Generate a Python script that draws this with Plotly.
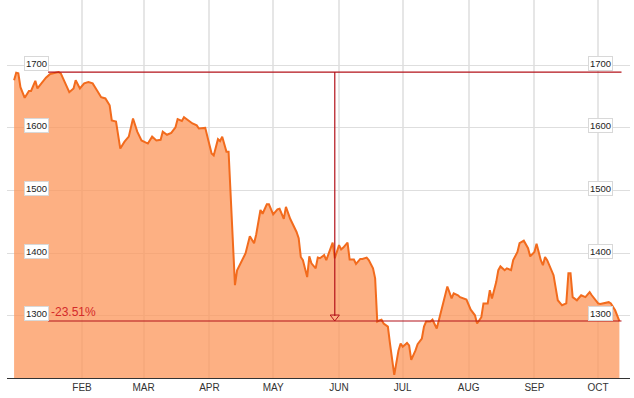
import plotly.graph_objects as go
import datetime as dt

# ---- data ----
dates = [
    "2007-12-31", "2008-01-01", "2008-01-02", "2008-01-03", "2008-01-05", "2008-01-07", "2008-01-08",
    "2008-01-10", "2008-01-11", "2008-01-13", "2008-01-15", "2008-01-17", "2008-01-19", "2008-01-21",
    "2008-01-22", "2008-01-25", "2008-01-26", "2008-01-28", "2008-01-29", "2008-01-31", "2008-02-02",
    "2008-02-04", "2008-02-06", "2008-02-08", "2008-02-10", "2008-02-12", "2008-02-14", "2008-02-15",
    "2008-02-17", "2008-02-19", "2008-02-21", "2008-02-23", "2008-02-25", "2008-02-27", "2008-02-29",
    "2008-03-03", "2008-03-05", "2008-03-07", "2008-03-09", "2008-03-10", "2008-03-12", "2008-03-14",
    "2008-03-16", "2008-03-17", "2008-03-19", "2008-03-20", "2008-03-22", "2008-03-24", "2008-03-26",
    "2008-03-27", "2008-03-30", "2008-03-31", "2008-04-02", "2008-04-03", "2008-04-05", "2008-04-06",
    "2008-04-07", "2008-04-09", "2008-04-10", "2008-04-13", "2008-04-14", "2008-04-18", "2008-04-20",
    "2008-04-22", "2008-04-23", "2008-04-25", "2008-04-26", "2008-04-28", "2008-04-29", "2008-05-01",
    "2008-05-03", "2008-05-04", "2008-05-06", "2008-05-07", "2008-05-09", "2008-05-12", "2008-05-13",
    "2008-05-14", "2008-05-15", "2008-05-17", "2008-05-18", "2008-05-19", "2008-05-21", "2008-05-22",
    "2008-05-23", "2008-05-25", "2008-05-26", "2008-05-29", "2008-05-30", "2008-06-01", "2008-06-02",
    "2008-06-03", "2008-06-05", "2008-06-06", "2008-06-08", "2008-06-09", "2008-06-11", "2008-06-12",
    "2008-06-14", "2008-06-15", "2008-06-17", "2008-06-18", "2008-06-19", "2008-06-20", "2008-06-21",
    "2008-06-22", "2008-06-24", "2008-06-25", "2008-06-27", "2008-06-29", "2008-06-30", "2008-07-01",
    "2008-07-03", "2008-07-04", "2008-07-05", "2008-07-07", "2008-07-08", "2008-07-10", "2008-07-11",
    "2008-07-12", "2008-07-14", "2008-07-15", "2008-07-17", "2008-07-18", "2008-07-19", "2008-07-21",
    "2008-07-22", "2008-07-24", "2008-07-25", "2008-07-27", "2008-07-28", "2008-07-31", "2008-08-02",
    "2008-08-04", "2008-08-05", "2008-08-07", "2008-08-08", "2008-08-10", "2008-08-11", "2008-08-12",
    "2008-08-14", "2008-08-15", "2008-08-16", "2008-08-18", "2008-08-19", "2008-08-21", "2008-08-22",
    "2008-08-24", "2008-08-25", "2008-08-27", "2008-08-29", "2008-08-30", "2008-09-01", "2008-09-02",
    "2008-09-04", "2008-09-05", "2008-09-06", "2008-09-07", "2008-09-09", "2008-09-10", "2008-09-12",
    "2008-09-14", "2008-09-16", "2008-09-17", "2008-09-18", "2008-09-19", "2008-09-21", "2008-09-23",
    "2008-09-25", "2008-09-27", "2008-09-28", "2008-10-01", "2008-10-02", "2008-10-04", "2008-10-06",
    "2008-10-07", "2008-10-09", "2008-10-11",
]
values = [
    1676, 1688, 1687, 1665, 1648, 1659, 1659,
    1675, 1663, 1671, 1680, 1686, 1687, 1689,
    1687, 1665, 1657, 1663, 1676, 1663, 1671,
    1673, 1671, 1660, 1649, 1647, 1636, 1612,
    1610, 1567, 1578, 1586, 1615, 1594, 1580,
    1575, 1586, 1580, 1581, 1594, 1589, 1592,
    1601, 1614, 1611, 1617, 1612, 1607, 1604,
    1599, 1600, 1586, 1559, 1556, 1582, 1579,
    1586, 1562, 1562, 1349, 1373, 1400, 1427,
    1416, 1430, 1469, 1463, 1478, 1478, 1462,
    1470, 1471, 1455, 1474, 1455, 1434, 1424,
    1394, 1389, 1362, 1395, 1384, 1376, 1393,
    1392, 1397, 1389, 1417, 1392, 1413, 1406,
    1409, 1417, 1390, 1390, 1383, 1391, 1391,
    1393, 1389, 1376, 1360, 1291, 1293, 1294,
    1288, 1283, 1256, 1206, 1245, 1256, 1251,
    1257, 1253, 1230, 1245, 1255, 1264, 1283,
    1291, 1291, 1294, 1280, 1293, 1307, 1333,
    1347, 1328, 1336, 1333, 1330, 1326, 1310,
    1301, 1288, 1298, 1320, 1320, 1341, 1328,
    1354, 1373, 1379, 1373, 1376, 1373, 1389,
    1402, 1416, 1420, 1408, 1395, 1402, 1415,
    1389, 1381, 1394, 1389, 1373, 1365, 1325,
    1317, 1320, 1368, 1368, 1330, 1325, 1333,
    1330, 1338, 1333, 1320, 1319, 1320, 1322,
    1320, 1309, 1291.9,
]
month_ticks = ["2008-02-01", "2008-03-01", "2008-04-01", "2008-05-01", "2008-06-01",
               "2008-07-01", "2008-08-01", "2008-09-01", "2008-10-01"]
month_labels = ["FEB", "MAR", "APR", "MAY", "JUN", "JUL", "AUG", "SEP", "OCT"]
y_ticks = [1300, 1400, 1500, 1600, 1700]
measure_start = "2008-01-16"
measure_end = "2008-10-12"

# ---- layout constants ----
W, H = 634, 398
ML, MR, MT, MB = 7, 4, 0, 20
y_range = [1201, 1804]
x_range = ["2007-12-27 16:00", "2008-10-16 00:00"]
px_per_unit = (H - MT - MB) / (y_range[1] - y_range[0])

line_color = "#f26b1d"
fill_color = "rgba(252,150,90,0.75)"
red = "#b3121a"

high = max(values)
last = values[-1]
pct = (last / high - 1) * 100
d0 = dt.datetime.fromisoformat(measure_start)
d1 = dt.datetime.fromisoformat(measure_end)
mid = (d0 + (d1 - d0) / 2).strftime("%Y-%m-%d %H:%M")

fig = go.Figure()
fig.add_trace(go.Scatter(
    x=dates, y=values, mode="lines",
    line=dict(color=line_color, width=2),
    fill="tozeroy", fillcolor=fill_color,
    hoverinfo="skip", showlegend=False,
))

# measurement lines
shapes = [
    dict(type="line", xref="x", yref="y", x0=measure_start, x1=measure_end, y0=high, y1=high,
         line=dict(color=red, width=1.2)),
    dict(type="line", xref="x", yref="y", x0=measure_start, x1=measure_end, y0=last, y1=last,
         line=dict(color=red, width=1.2)),
    dict(type="line", xref="x", yref="y", x0=mid, x1=mid, y0=high, y1=last + 5 / px_per_unit,
         line=dict(color=red, width=1.2)),
]
fig.add_trace(go.Scatter(
    x=[mid], y=[last + 4 / px_per_unit], mode="markers",
    marker=dict(symbol="triangle-down-open", size=8, color=red, line=dict(width=1, color=red)),
    hoverinfo="skip", showlegend=False,
))

annotations = []
for v in y_ticks:
    for xp in (0.0474, 0.9534):
        annotations.append(dict(
            x=xp, xref="paper", y=v, yref="y", text=str(v), showarrow=False,
            xanchor="center", yanchor="middle", yshift=2,
            font=dict(family="Liberation Sans, Arial, sans-serif", size=9.5, color="#222"),
            bgcolor="white", bordercolor="#d8d8d8", borderwidth=1, borderpad=1,
        ))
annotations.append(dict(
    x=measure_start, xref="x", y=last, yref="y", text=f"{pct:.2f}%", showarrow=False,
    xanchor="left", yanchor="bottom", xshift=1, yshift=0,
    font=dict(family="Liberation Sans, Arial, sans-serif", size=12, color="#d42a2a"),
))

fig.update_layout(
    width=W, height=H,
    margin=dict(l=ML, r=MR, t=MT, b=MB, pad=0),
    paper_bgcolor="white", plot_bgcolor="white",
    shapes=shapes, annotations=annotations,
    xaxis=dict(
        type="date", range=x_range,
        tickmode="array", tickvals=month_ticks, ticktext=month_labels,
        showgrid=True, gridcolor="#e6e6e6", gridwidth=2,
        showline=True, linecolor="#333333", linewidth=1,
        ticks="", ticklen=0,
        tickfont=dict(family="Liberation Sans, Arial, sans-serif", size=10, color="#333"),
        zeroline=False, fixedrange=True,
    ),
    yaxis=dict(
        range=y_range, tickmode="array", tickvals=y_ticks,
        showticklabels=False, showgrid=True, gridcolor="#dedede", gridwidth=1,
        zeroline=False, showline=False, fixedrange=True,
    ),
)

fig.write_html("out.html")
